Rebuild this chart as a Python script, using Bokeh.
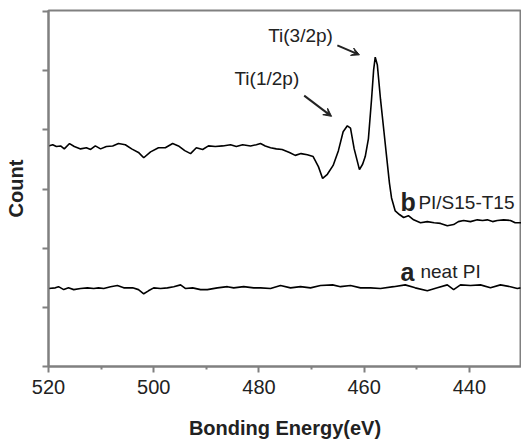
from bokeh.plotting import figure
from bokeh.models import Range1d, FixedTicker, Arrow, VeeHead, Label
from bokeh.embed import file_html
from bokeh.resources import INLINE

# Series b: PI/S15-T15 (binding energy eV, counts a.u.)
b_energy = [520.0, 519.2, 518.5, 517.7, 517.0, 516.0, 515.1, 513.9, 512.8, 512.0,
            511.1, 510.1, 509.0, 507.8, 506.7, 505.4, 504.2, 502.9, 501.9, 500.6,
            499.1, 497.8, 496.4, 495.3, 494.1, 493.0, 491.9, 490.7, 489.6, 488.3,
            486.9, 485.4, 484.3, 483.1, 481.6, 480.5, 479.7, 478.8, 477.8, 476.7,
            475.6, 474.2, 473.1, 472.0, 470.8, 469.7, 468.7, 467.9, 467.0, 465.9,
            464.9, 464.0, 463.2, 462.6, 461.9, 460.9, 460.3, 459.8, 459.2, 458.6,
            458.2, 457.9, 457.5, 456.9, 456.3, 455.8, 455.2, 454.8, 454.1, 453.3,
            452.5, 451.6, 450.6, 449.3, 448.0, 446.7, 445.5, 444.2, 443.0, 442.1,
            441.1, 439.8, 438.5, 437.5, 436.6, 435.6, 434.7, 433.5, 432.2, 431.3,
            430.1]
b_count = [3.73, 3.75, 3.72, 3.73, 3.68, 3.77, 3.72, 3.68, 3.70, 3.67,
           3.73, 3.68, 3.72, 3.73, 3.77, 3.75, 3.68, 3.62, 3.53, 3.63,
           3.70, 3.70, 3.77, 3.73, 3.65, 3.60, 3.70, 3.67, 3.73, 3.72,
           3.73, 3.75, 3.72, 3.75, 3.73, 3.75, 3.77, 3.73, 3.70, 3.68,
           3.67, 3.62, 3.57, 3.60, 3.58, 3.55, 3.38, 3.18, 3.25, 3.40,
           3.65, 3.97, 4.07, 4.03, 3.68, 3.33, 3.42, 3.55, 3.85, 4.52,
           5.02, 5.23, 5.10, 4.52, 4.02, 3.60, 3.10, 2.85, 2.63, 2.57,
           2.52, 2.55, 2.48, 2.43, 2.45, 2.43, 2.42, 2.38, 2.40, 2.45,
           2.47, 2.45, 2.48, 2.47, 2.48, 2.45, 2.47, 2.48, 2.47, 2.43,
           2.43]

# Series a: neat PI
a_energy = [520.0, 518.7, 518.1, 517.1, 516.2, 515.2, 513.9, 512.6, 511.4, 510.5,
            509.5, 508.2, 506.9, 505.7, 504.0, 502.9, 501.9, 501.0, 500.0, 498.7,
            497.4, 496.2, 494.9, 494.0, 492.6, 491.1, 489.8, 487.9, 486.0, 484.8,
            482.9, 481.0, 479.7, 477.8, 475.9, 474.0, 472.1, 470.2, 468.3, 466.0,
            464.5, 462.6, 460.7, 458.8, 456.9, 454.4, 452.2, 450.3, 448.0, 446.1,
            444.2, 443.0, 441.7, 439.8, 437.9, 436.0, 434.1, 432.2, 430.9, 430.3]
a_count = [1.32, 1.33, 1.35, 1.30, 1.33, 1.30, 1.32, 1.33, 1.32, 1.33,
           1.32, 1.35, 1.37, 1.33, 1.33, 1.30, 1.23, 1.28, 1.33, 1.32,
           1.33, 1.35, 1.38, 1.32, 1.33, 1.30, 1.30, 1.33, 1.35, 1.33,
           1.35, 1.33, 1.33, 1.32, 1.37, 1.33, 1.35, 1.33, 1.37, 1.38,
           1.35, 1.37, 1.33, 1.33, 1.32, 1.35, 1.38, 1.33, 1.28, 1.33,
           1.38, 1.30, 1.38, 1.37, 1.38, 1.33, 1.38, 1.35, 1.32, 1.33]

x_ticks = [520, 500, 480, 460, 440]
x_minor = [510, 490, 470, 450, 430]
y_ticks = [0, 1, 2, 3, 4, 5, 6]

FONT = "Liberation Sans"
AXIS_COLOR = "#808080"
TEXT_COLOR = "#222222"

p = figure(width=521, height=441, output_backend="svg", toolbar_location=None,
           x_range=Range1d(520, 430.1), y_range=Range1d(0, 6.02),
           min_border_left=48, min_border_right=0, min_border_top=10, min_border_bottom=70)
p.grid.visible = False
p.background_fill_color = "white"
p.outline_line_color = AXIS_COLOR
p.outline_line_width = 2

p.line(b_energy, b_count, line_color="black", line_width=1.6)
p.line(a_energy, a_count, line_color="black", line_width=1.6)

xa = p.xaxis[0]
xa.ticker = FixedTicker(ticks=x_ticks, minor_ticks=x_minor)
xa.axis_label = "Bonding Energy(eV)"
xa.axis_label_text_font = FONT
xa.axis_label_text_font_style = "bold"
xa.axis_label_text_font_size = "20px"
xa.axis_label_text_color = TEXT_COLOR
xa.axis_label_standoff = 20
xa.major_label_text_font = FONT
xa.major_label_text_font_size = "20px"
xa.major_label_text_color = TEXT_COLOR
xa.major_label_standoff = 7
xa.axis_line_color = AXIS_COLOR
xa.axis_line_width = 2
xa.major_tick_line_color = AXIS_COLOR
xa.major_tick_line_width = 2
xa.minor_tick_line_color = AXIS_COLOR
xa.minor_tick_line_width = 2
xa.major_tick_out = 6
xa.major_tick_in = 0
xa.minor_tick_out = 3
xa.minor_tick_in = 0

ya = p.yaxis[0]
ya.ticker = FixedTicker(ticks=y_ticks, minor_ticks=[])
ya.axis_label = "Count"
ya.axis_label_text_font = FONT
ya.axis_label_text_font_style = "bold"
ya.axis_label_text_font_size = "20px"
ya.axis_label_text_color = TEXT_COLOR
ya.axis_label_standoff = 16
ya.major_label_overrides = {t: "" for t in y_ticks}
ya.major_label_standoff = 0
ya.axis_line_color = AXIS_COLOR
ya.axis_line_width = 2
ya.major_tick_line_color = AXIS_COLOR
ya.major_tick_line_width = 2
ya.major_tick_out = 6
ya.major_tick_in = 0

def label(x, y, text, size="19px", style="normal", align="left", baseline="alphabetic"):
    p.add_layout(Label(x=x, y=y, text=text, text_font=FONT, text_font_size=size,
                       text_font_style=style, text_align=align, text_baseline=baseline,
                       text_color=TEXT_COLOR))

label(472.1, 5.6, "Ti(3/2p)", align="center", baseline="middle")
label(478.5, 4.87, "Ti(1/2p)", align="center", baseline="middle")
label(453.1, 2.78, "b", size="25px", style="bold")
label(449.7, 2.78, "PI/S15-T15")
label(453.1, 1.60, "a", size="25px", style="bold")
label(449.3, 1.60, "neat PI")

p.add_layout(Arrow(end=VeeHead(size=8, fill_color=TEXT_COLOR, line_color=TEXT_COLOR),
                   x_start=465.1, y_start=5.43, x_end=460.9, y_end=5.27,
                   line_color=TEXT_COLOR, line_width=2))
p.add_layout(Arrow(end=VeeHead(size=8, fill_color=TEXT_COLOR, line_color=TEXT_COLOR),
                   x_start=471.4, y_start=4.58, x_end=466.2, y_end=4.23,
                   line_color=TEXT_COLOR, line_width=2))

open("out.html", "w").write(file_html(p, INLINE))
